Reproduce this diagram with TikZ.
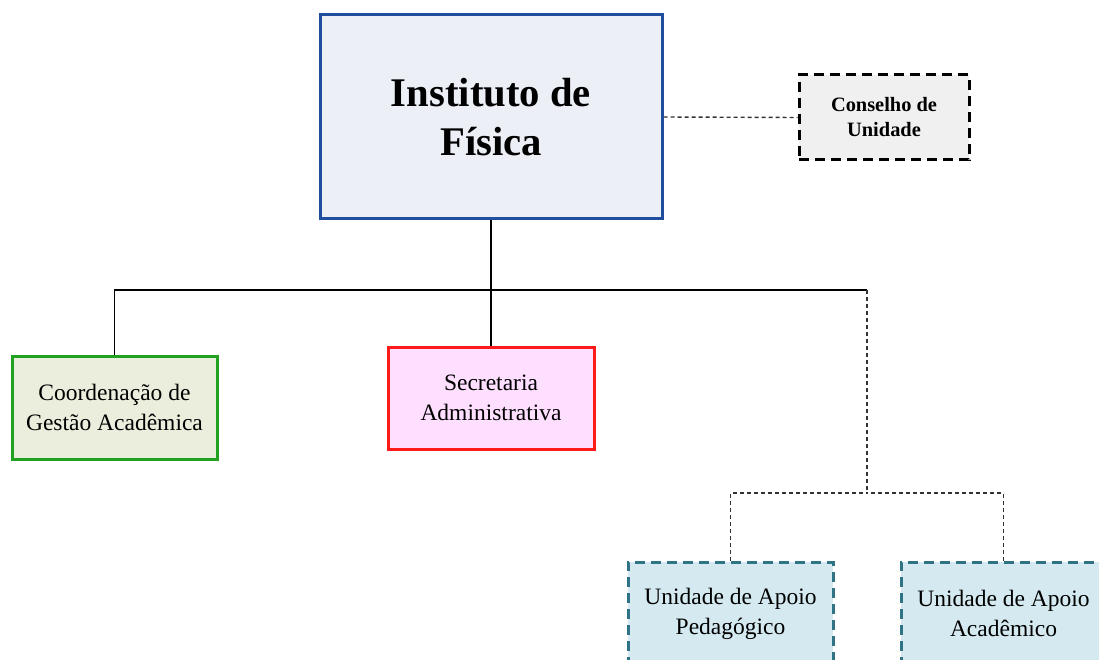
\documentclass[tikz,border=0pt]{standalone}
\usepackage{fontspec}
\setmainfont{Liberation Serif}
\definecolor{instborder}{HTML}{1F4E9F}
\definecolor{instfill}{HTML}{ECEFF5}
\definecolor{grnborder}{HTML}{22A022}
\definecolor{grnfill}{HTML}{EBEEDC}
\definecolor{redborder}{HTML}{FF1A1A}
\definecolor{redfill}{HTML}{FFDFFF}
\definecolor{tealborder}{HTML}{2F7385}
\definecolor{tealfill}{HTML}{D4EAF0}
\definecolor{greyfill}{HTML}{F0F0F0}
\begin{document}
\begin{tikzpicture}[x=1pt,y=-1pt,
  box/.style={rectangle, align=center, inner sep=0pt, line width=3pt,
    font=\fontsize{23.5}{30}\selectfont},
  solidline/.style={draw=black, line width=1.6pt},
  dotline/.style={draw=black!80, line width=1.4pt, dash pattern=on 4pt off 3pt},
  bigdash/.style={line width=3pt, dash pattern=on 10pt off 6pt}
]
\useasboundingbox (0,0) rectangle (1099,660);
\clip (0,0) rectangle (1099,660);
\fill[white] (0,0) rectangle (1099,660);

\node[box, draw=instborder, fill=instfill, minimum width=342pt, minimum height=204pt,
  font=\fontsize{40.7}{49}\selectfont\bfseries] (inst) at (491,117) {Instituto de\\Física};
\node[box, bigdash, draw=black, fill=greyfill, minimum width=170pt, minimum height=85pt,
  font=\fontsize{20.4}{25}\selectfont\bfseries] (cons) at (884,117.5) {Conselho de\\Unidade};
\node[box, draw=grnborder, fill=grnfill, minimum width=205pt, minimum height=103pt] (coord) at (114.5,407.5) {Coordenação de\\Gestão Acadêmica};
\node[box, draw=redborder, fill=redfill, minimum width=206pt, minimum height=102pt] (sec) at (491,398) {Secretaria\\Administrativa};
\node[box, bigdash, draw=tealborder, fill=tealfill, minimum width=205pt, minimum height=103pt] (uap) at (730.5,613.5) {Unidade de Apoio\\Pedagógico};
\node[box, bigdash, draw=tealborder, fill=tealfill, minimum width=205pt, minimum height=103pt] (uaa) at (1003.5,613.5) {Unidade de Apoio\\Acadêmico};

\coordinate (j1) at (491,290);
\coordinate (r1) at (867,290);
\coordinate (j2) at (867,493);

\draw[dotline] (inst.east) -- (cons.west);
\draw[solidline] (inst.south) -- (sec.north);
\draw[solidline] (coord.north) |- (j1) -- (r1);
\draw[dotline] (r1) -- (j2);
\draw[dotline] (uap.north) |- (j2);
\draw[dotline] (uaa.north) |- (j2);
\end{tikzpicture}
\end{document}
